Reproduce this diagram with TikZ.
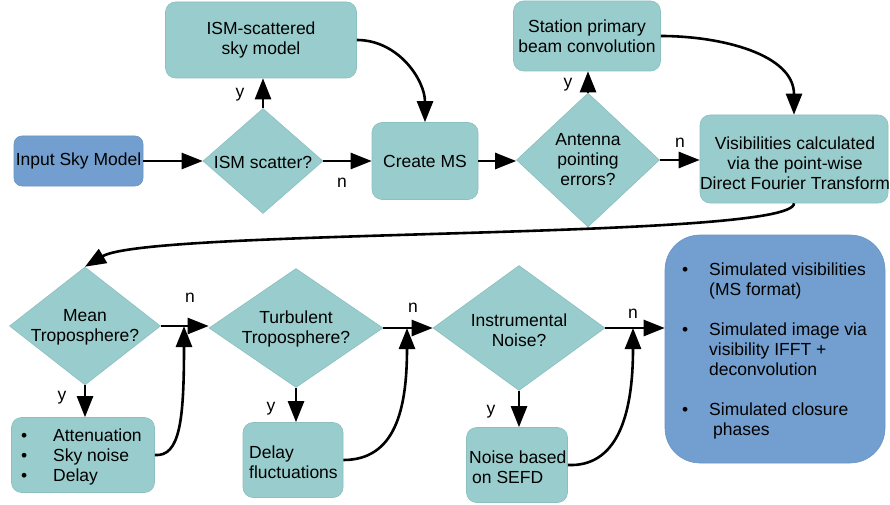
\documentclass[tikz,border=0pt]{standalone}
\usepackage{fontspec}
\setmainfont{Liberation Sans}
\usetikzlibrary{arrows.meta,shapes.geometric}
\definecolor{tealfill}{HTML}{99CCCC}
\definecolor{tealline}{HTML}{8CBFBF}
\definecolor{bluefill}{HTML}{729FCF}
\definecolor{blueline}{HTML}{6A94C4}
\begin{document}
\begin{tikzpicture}[x=1pt,y=-1pt,
  every node/.style={font=\fontsize{17.5}{20}\selectfont, inner sep=0pt, text=black},
  tbox/.style={draw=tealline, fill=tealfill, rounded corners=10pt, line width=0.6pt},
  bbox/.style={draw=blueline, fill=bluefill, rounded corners=8pt, line width=0.6pt},
  dia/.style={diamond, draw=tealline, fill=tealfill, line width=0.6pt},
  arr/.style={line width=2.6pt, -{Triangle[length=21pt,width=16pt]}}]
\useasboundingbox (0,0) rectangle (890,505);
% top row
\node[bbox, minimum width=129pt, minimum height=50pt] (inp) at (78.5,161) {Input Sky Model};
\node[dia, minimum width=120pt, minimum height=105pt] (ism) at (263,161) {};
\node (ismt) at (263,162) {ISM scatter?};
\node[tbox, minimum width=191pt, minimum height=76pt, align=center] (isms) at (261,40) {ISM-scattered\\sky model};
\node[tbox, minimum width=106pt, minimum height=77pt] (cms) at (425,161) {Create MS};
\node[dia, minimum width=143pt, minimum height=134pt] (ant) at (588,160) {};
\node[align=center] (antt) at (588,160) {Antenna\\pointing\\errors?};
\node[tbox, minimum width=147pt, minimum height=70pt, align=center] (stn) at (587,36) {Station primary\\beam convolution};
\node[tbox, minimum width=188pt, minimum height=88pt] (vis) at (794,159) {};
\node[align=center] (vist) at (795,163) {Visibilities calculated\\via the point-wise\\Direct Fourier Transform};
% second row
\node[dia, minimum width=151pt, minimum height=118pt] (mt) at (85,326) {};
\node[align=center] (mtt) at (85,327) {Mean\\Troposphere?};
\node[dia, minimum width=174pt, minimum height=119pt] (tt) at (296,328) {};
\node[align=center] (ttt) at (296,329) {Turbulent\\Troposphere?};
\node[dia, minimum width=172pt, minimum height=125pt] (ins) at (519,328) {};
\node[align=center] (inst) at (519,330) {Instrumental\\Noise?};
\node[tbox, minimum width=143pt, minimum height=75pt] (att) at (83,455) {};
\node[anchor=west] (attt) at (21,457) {\begin{tabular}{@{}p{32pt}@{}l@{}}\textbullet & Attenuation\\ \textbullet & Sky noise\\ \textbullet & Delay\end{tabular}};
\node[tbox, minimum width=100pt, minimum height=75pt] (dly) at (293,460) {};
\node[anchor=west, align=left] (dlyt) at (249,462) {Delay\\fluctuations};
\node[tbox, minimum width=101pt, minimum height=75pt] (nse) at (517,465) {};
\node[anchor=west, align=left] (nset) at (469,467) {Noise based\\\hspace{3pt}on SEFD};
\node[bbox, rounded corners=35pt, minimum width=220pt, minimum height=228pt] (out) at (775,349) {};
\node[anchor=west] (outt) at (682,351) {\begin{tabular}{@{}p{27pt}@{}l@{}}
\textbullet & Simulated visibilities\\
 & (MS format)\\
 & \\
\textbullet & Simulated image via\\
 & visibility IFFT +\\
 & deconvolution\\
 & \\
\textbullet & Simulated closure\\
 & \hspace{4pt}phases
\end{tabular}};
% connectors top
\draw[arr] (inp.east) -- (inp.east -| ism.west);
\draw[arr] (ism.east) -- (ism.east -| cms.west);
\draw[arr] (ism.north) -- (ism.north |- isms.south);
\draw[arr] (isms.east) to[out=0,in=90] (cms.north);
\draw[arr] (cms.east) -- (cms.east -| ant.west);
\draw[arr] (ant.north) -- (ant.north |- stn.south);
\draw[arr] (ant.east) -- (ant.east -| vis.west);
\draw[arr] (stn.east) to[out=0,in=90] (vis.north);
\draw[arr] (vis.south) .. controls (795,240) and (150,228) .. (mt.north);
\node (ly1) at (240,95) {y};
\node (ln1) at (342,183) {n};
\node (ly2) at (568,85) {y};
\node (ln2) at (680,143) {n};
% connectors bottom
\coordinate (j1) at (184,326);
\coordinate (j2) at (407,328);
\coordinate (j3) at (633,328);
\draw[arr] (mt.east) -- (mt.east -| tt.west);
\draw[arr] (att.east) .. controls (180,457) and (184,420) .. (j1);
\draw[arr] (mt.south) -- (mt.south |- att.north);
\draw[arr] (tt.east) -- (tt.east -| ins.west);
\draw[arr] (dly.east) .. controls (395,460) and (407,410) .. (j2);
\draw[arr] (tt.south) -- (tt.south |- dly.north);
\draw[arr] (ins.east) -- (ins.east -| out.west);
\draw[arr] (nse.east) .. controls (615,467) and (633,420) .. (j3);
\draw[arr] (ins.south) -- (ins.south |- nse.north);
\node (ln3) at (190,298) {n};
\node (ly3) at (62,398) {y};
\node (ln4) at (413,308) {n};
\node (ly4) at (271,409) {y};
\node (ln5) at (633,314) {n};
\node (ly5) at (491,412) {y};
\end{tikzpicture}
\end{document}
